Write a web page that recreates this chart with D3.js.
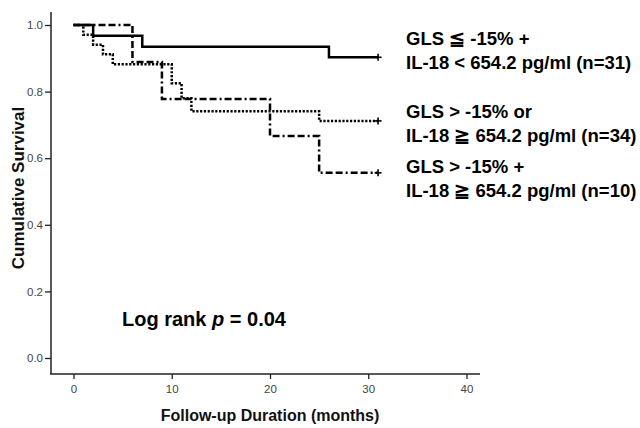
<!DOCTYPE html>
<html>
<head>
<meta charset="utf-8">
<script src="https://cdn.jsdelivr.net/npm/d3@7"></script>
<style>
  html, body { margin: 0; padding: 0; background: #fff; }
  svg { display: block; font-family: "Liberation Sans", Arial, sans-serif; }
</style>
</head>
<body>
<svg id="chart" width="640" height="428"></svg>
<script>
// ---- data ----
const xTicks = [0, 10, 20, 30, 40];
const yTicks = [0.0, 0.2, 0.4, 0.6, 0.8, 1.0];

const solidTimes = [0, 2, 7, 26, 31];
const solidSurv  = [1.0, 0.968, 0.935, 0.903, 0.903];

const dottedTimes = [0, 1, 2, 3, 4, 10, 11, 12, 25, 31];
const dottedSurv  = [1.0, 0.971, 0.941, 0.912, 0.882, 0.825, 0.78, 0.741, 0.712, 0.712];

const dashDotTimes = [0, 6, 9, 20, 25, 31];
const dashDotSurv  = [1.0, 0.889, 0.778, 0.667, 0.556, 0.556];

const groupLabels = [
  ["GLS \u2266 -15% +", "IL-18 < 654.2 pg/ml (n=31)"],
  ["GLS > -15% or", "IL-18 \u2267 654.2 pg/ml (n=34)"],
  ["GLS > -15% +", "IL-18 \u2267 654.2 pg/ml (n=10)"]
];
const xTitle = "Follow-up Duration (months)";
const yTitle = "Cumulative Survival";

// ---- drawing ----
const svg = d3.select("#chart");
const x = d3.scaleLinear().domain([0, 40]).range([73.5, 466.5]);
const y = d3.scaleLinear().domain([0, 1]).range([358, 25]);

const axisColor = "#222";

// x axis
const xAxisG = svg.append("g").attr("transform", "translate(0,374)")
  .call(d3.axisBottom(x).tickValues(xTicks).tickFormat(d3.format("d")).tickSize(5).tickPadding(6));
xAxisG.select(".domain").remove();
xAxisG.selectAll("line").attr("stroke", axisColor).attr("stroke-width", 1.3);
xAxisG.selectAll("text").attr("font-size", 11.5).attr("fill", "#444")
  .attr("font-family", "Liberation Sans, Arial, sans-serif");
svg.append("line").attr("x1", 50).attr("x2", 480).attr("y1", 374).attr("y2", 374)
  .attr("stroke", axisColor).attr("stroke-width", 1.5);

// y axis
const yAxisG = svg.append("g").attr("transform", "translate(51,0)")
  .call(d3.axisLeft(y).tickValues(yTicks).tickFormat(d3.format(".1f")).tickSize(6).tickPadding(2));
yAxisG.select(".domain").remove();
yAxisG.selectAll("line").attr("stroke", axisColor).attr("stroke-width", 1.3);
yAxisG.selectAll("text").attr("font-size", 11.5).attr("fill", "#444")
  .attr("font-family", "Liberation Sans, Arial, sans-serif");
svg.append("line").attr("x1", 51).attr("x2", 51).attr("y1", 12).attr("y2", 374)
  .attr("stroke", axisColor).attr("stroke-width", 1.5);

// titles
svg.append("text").attr("x", 270).attr("y", 421).attr("text-anchor", "middle")
  .attr("font-size", 16).attr("font-weight", "bold").attr("fill", "#111").text(xTitle);
svg.append("text").attr("transform", "translate(24,188) rotate(-90)").attr("text-anchor", "middle")
  .attr("font-size", 17).attr("font-weight", "bold").attr("fill", "#111").text(yTitle);

// curves
const line = d3.line().x(d => x(d[0])).y(d => y(d[1])).curve(d3.curveStepAfter);
const series = [
  { t: dottedTimes, s: dottedSurv, dash: "2.2,1.6" },
  { t: dashDotTimes, s: dashDotSurv, dash: "7,3,7,3,2,3" },
  { t: solidTimes, s: solidSurv, dash: null }
];
series.forEach(ser => {
  const pts = ser.t.map((t, i) => [t, ser.s[i]]);
  svg.append("path").attr("d", line(pts)).attr("fill", "none")
    .attr("stroke", "#000").attr("stroke-width", 2.5)
    .attr("stroke-dasharray", ser.dash);
  // censor "+" at end
  const last = pts[pts.length - 1];
  const cx = x(last[0]), cy = y(last[1]);
  svg.append("line").attr("x1", cx - 3.5).attr("x2", cx + 3.5).attr("y1", cy).attr("y2", cy)
    .attr("stroke", "#000").attr("stroke-width", 1.6);
  svg.append("line").attr("x1", cx).attr("x2", cx).attr("y1", cy - 3.5).attr("y2", cy + 3.5)
    .attr("stroke", "#000").attr("stroke-width", 1.6);
});

// legend text
const legendY = [45, 118, 173];
groupLabels.forEach((lab, i) => {
  lab.forEach((s, j) => {
    svg.append("text").attr("x", 406).attr("y", legendY[i] + j * 23.5)
      .attr("font-size", 18.5).attr("font-weight", "bold").attr("fill", "#000").text(s);
  });
});

// log rank
const lr = svg.append("text").attr("x", 122).attr("y", 326)
  .attr("font-size", 20).attr("font-weight", "bold").attr("fill", "#000");
lr.append("tspan").text("Log rank ");
lr.append("tspan").attr("font-style", "italic").text("p");
lr.append("tspan").text(" = 0.04");
</script>
</body>
</html>
